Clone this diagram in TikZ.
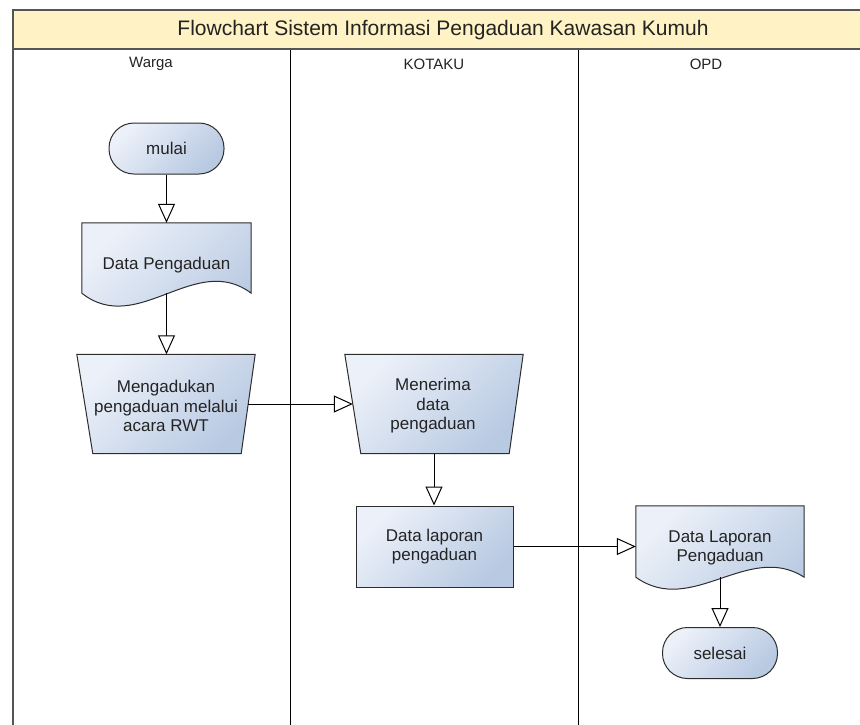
\documentclass[tikz,border=0pt]{standalone}
\usepackage{fontspec}
\setmainfont{Liberation Sans}
\usetikzlibrary{arrows.meta,calc}
\definecolor{band}{RGB}{255,242,196}
\definecolor{frameC}{RGB}{85,85,85}
\definecolor{shL}{RGB}{236,241,249}
\definecolor{shR}{RGB}{184,201,226}
\definecolor{edgeC}{RGB}{45,45,45}
\definecolor{txtC}{RGB}{35,35,35}
\begin{document}
\begin{tikzpicture}[x=1pt,y=-1pt,
  shapefill/.style={draw=edgeC, line width=1pt, top color=shL, bottom color=shR, shading angle=45},
  bodyfont/.style={font=\fontsize{17}{19.5}\selectfont, text=txtC},
  headfont/.style={font=\fontsize{15}{18}\selectfont, text=txtC},
  term/.style={shapefill, bodyfont, rectangle, rounded corners=25pt, minimum width=115pt, minimum height=51pt, inner sep=0pt},
  holder/.style={draw=none, rectangle, inner sep=0pt},
  procbox/.style={shapefill, bodyfont, rectangle, minimum width=157pt, minimum height=81pt, inner sep=0pt, align=center},
  label/.style={bodyfont, align=center, inner sep=0pt},
  arr/.style={draw=black, line width=1pt, -{Triangle[length=19pt,width=17pt,fill=white]}},
]
\useasboundingbox (0,0) rectangle (860,724);
% frame
\fill[band] (13,10) rectangle (864,49);
\draw[black, line width=1pt] (290,49) -- (290,730);
\draw[black, line width=1pt] (578,49) -- (578,730);
\draw[frameC, line width=2pt] (13,49) -- (864,49);
\draw[frameC, line width=2pt] (864,10) -- (13,10) -- (13,730);
\node[font=\fontsize{21}{24}\selectfont, text=txtC] (title) at (443,30) {Flowchart Sistem Informasi Pengaduan Kawasan Kumuh};
\node[headfont] (h1) at (151,64) {Warga};
\node[headfont] (h2) at (434,64) {KOTAKU};
\node[headfont] (h3) at (706,64) {OPD};

% mulai
\node[term] (mulai) at (166.5,148.5) {mulai};

% Data Pengaduan (document)
\node[holder, minimum width=169pt, minimum height=70pt] (dp) at (166.5,258) {};
\path[shapefill] (dp.north west) -- (dp.north east) -- (dp.south east)
  .. controls ($(dp.south east)+(-56,-42)$) and ($(dp.south west)+(56,44)$) .. (dp.south west) -- cycle;
\node[label] (dpt) at (166.5,265) {Data Pengaduan};

% Mengadukan (manual operation)
\node[holder, minimum width=178pt, minimum height=99pt] (meng) at (166,404) {};
\path[shapefill] (meng.north west) -- (meng.north east) -- ($(meng.south east)+(-14,0)$) -- ($(meng.south west)+(16,0)$) -- cycle;
\node[label] (mengt) at (166,406) {Mengadukan\\pengaduan melalui\\acara RWT};

% Menerima (manual operation)
\node[holder, minimum width=178pt, minimum height=99pt] (ment) at (434,404) {};
\path[shapefill] (ment.north west) -- (ment.north east) -- ($(ment.south east)+(-14,0)$) -- ($(ment.south west)+(16,0)$) -- cycle;
\node[label] (mentt) at (433,406) {Menerima\\data\\pengaduan};

% Data laporan pengaduan (process)
\node[procbox] (dlp) at (434.5,546.5) {Data laporan\\pengaduan};

% Data Laporan Pengaduan (document)
\node[holder, minimum width=168pt, minimum height=71pt] (dlp2) at (720,541.5) {};
\path[shapefill] (dlp2.north west) -- (dlp2.north east) -- (dlp2.south east)
  .. controls ($(dlp2.south east)+(-56,-36)$) and ($(dlp2.south west)+(56,40)$) .. (dlp2.south west) -- cycle;
\node[label] (dlp2t) at (720,548) {Data Laporan\\Pengaduan};

% selesai
\node[term] (selesai) at (720,653) {selesai};

% connectors
\draw[arr] (mulai.south) -- (dp.north);
\draw[arr] (dp.south) -- (dp.south |- meng.north);
\draw[arr] ($(meng.north east)!0.5!(meng.south east)+(-7,0)$) -- ($(ment.north west)!0.5!(ment.south west)+(8,0)$);
\draw[arr] (ment.south) -- (ment.south |- dlp.north);
\draw[arr] (dlp.east) -- (dlp.east -| dlp2.west);
\draw[arr] (dlp2.south) -- (selesai.north);
\end{tikzpicture}
\end{document}
